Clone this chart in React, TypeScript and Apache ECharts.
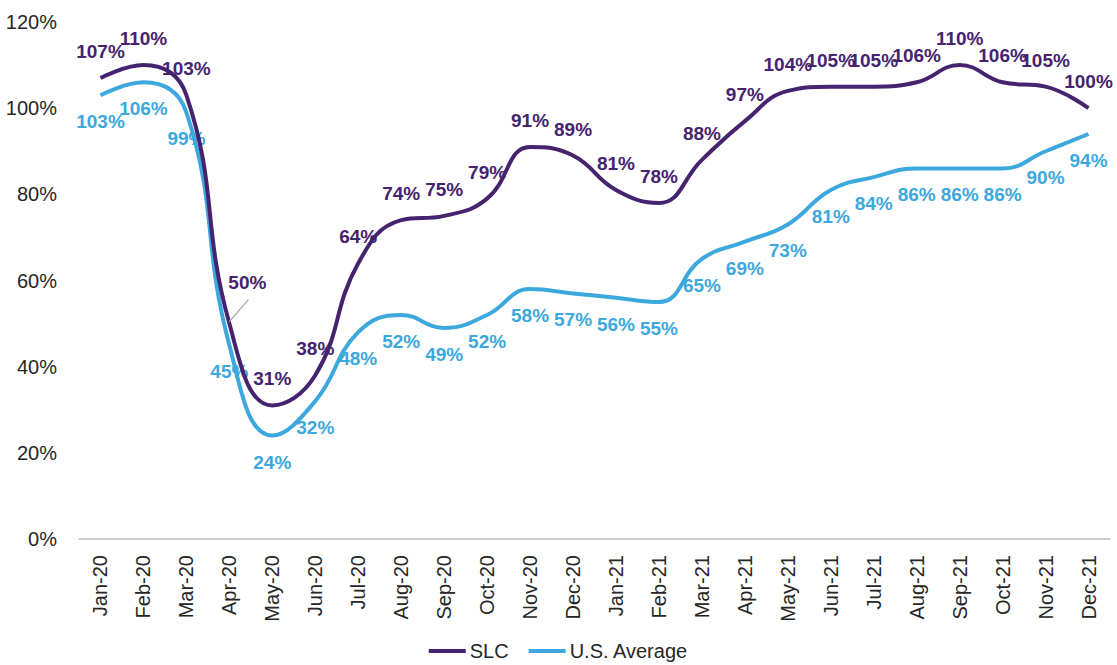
import React, { useEffect, useRef } from "react";
import * as echarts from "echarts";

const categories = [
  "Jan-20", "Feb-20", "Mar-20", "Apr-20", "May-20", "Jun-20", "Jul-20", "Aug-20",
  "Sep-20", "Oct-20", "Nov-20", "Dec-20", "Jan-21", "Feb-21", "Mar-21", "Apr-21",
  "May-21", "Jun-21", "Jul-21", "Aug-21", "Sep-21", "Oct-21", "Nov-21", "Dec-21",
];
const slcValues = [107, 110, 103, 50, 31, 38, 64, 74, 75, 79, 91, 89, 81, 78, 88, 97, 104, 105, 105, 106, 110, 106, 105, 100];
const usValues = [103, 106, 99, 45, 24, 32, 48, 52, 49, 52, 58, 57, 56, 55, 65, 69, 73, 81, 84, 86, 86, 86, 90, 94];
const seriesNames = ["SLC", "U.S. Average"];
const yMin = 0;
const yMax = 120;
const yInterval = 20;
const movedLabelIndex = 3;

const FONT = "'Liberation Sans', Arial, sans-serif";
const PURPLE = "#46236E";
const BLUE = "#3CA8DD";

export default function App() {
  const ref = useRef<HTMLDivElement>(null);
  useEffect(() => {
    if (!ref.current) return;
    const chart = echarts.init(ref.current, undefined, { renderer: "svg" });
    const labelBase = {
      show: true,
      distance: 17,
      formatter: "{c}%",
      fontFamily: FONT,
      fontSize: 19,
      fontWeight: "bold",
    };
    chart.setOption({
      animation: false,
      backgroundColor: "#ffffff",
      grid: { left: 79, right: 7, top: 22, bottom: 126, containLabel: false },
      legend: {
        data: seriesNames,
        left: "center",
        top: 636,
        icon: "rect",
        itemWidth: 37,
        itemHeight: 4,
        itemGap: 20,
        textStyle: { fontFamily: FONT, fontSize: 20, color: "#262626", padding: [0, 0, 0, -1] },
      },
      xAxis: {
        type: "category",
        data: categories,
        boundaryGap: true,
        axisLine: { show: true, lineStyle: { color: "#BFBFBF", width: 1.5 } },
        axisTick: { show: false },
        axisLabel: {
          rotate: 90,
          interval: 0,
          margin: 16,
          fontFamily: FONT,
          fontSize: 20,
          color: "#262626",
        },
      },
      yAxis: {
        type: "value",
        min: yMin,
        max: yMax,
        interval: yInterval,
        axisLine: { show: false },
        axisTick: { show: false },
        splitLine: { show: false },
        axisLabel: {
          formatter: "{value}%",
          margin: 22,
          fontFamily: FONT,
          fontSize: 20,
          color: "#262626",
        },
      },
      series: [
        {
          name: seriesNames[0],
          type: "line",
          data: slcValues,
          smooth: 0.45,
          symbol: "circle",
          symbolSize: 0,
          showSymbol: true,
          z: 3,
          lineStyle: { color: PURPLE, width: 4 },
          itemStyle: { color: PURPLE },
          label: { ...labelBase, position: "top", color: PURPLE },
          labelLayout: (params: any) =>
            params.dataIndex === movedLabelIndex ? { dx: 18, dy: -15 } : {},
        },
        {
          name: seriesNames[1],
          type: "line",
          data: usValues,
          smooth: 0.45,
          symbol: "circle",
          symbolSize: 0,
          showSymbol: true,
          z: 2,
          lineStyle: { color: BLUE, width: 4 },
          itemStyle: { color: BLUE },
          label: { ...labelBase, position: "bottom", color: BLUE },
        },
      ],
    });
    const p = chart.convertToPixel({ seriesIndex: 0 }, [movedLabelIndex, slcValues[movedLabelIndex]]) as number[];
    if (p) {
      chart.setOption({
        graphic: [
          {
            type: "line",
            z: 10,
            shape: { x1: p[0], y1: p[1] - 2, x2: p[0] + 19, y2: p[1] - 24 },
            style: { stroke: "#A6A6A6", lineWidth: 1.3 },
          },
        ],
      });
    }
    return () => chart.dispose();
  }, []);
  return (
    <div
      ref={ref}
      style={{ position: "fixed", left: 0, top: 0, width: 1117, height: 665, background: "#fff" }}
    />
  );
}
